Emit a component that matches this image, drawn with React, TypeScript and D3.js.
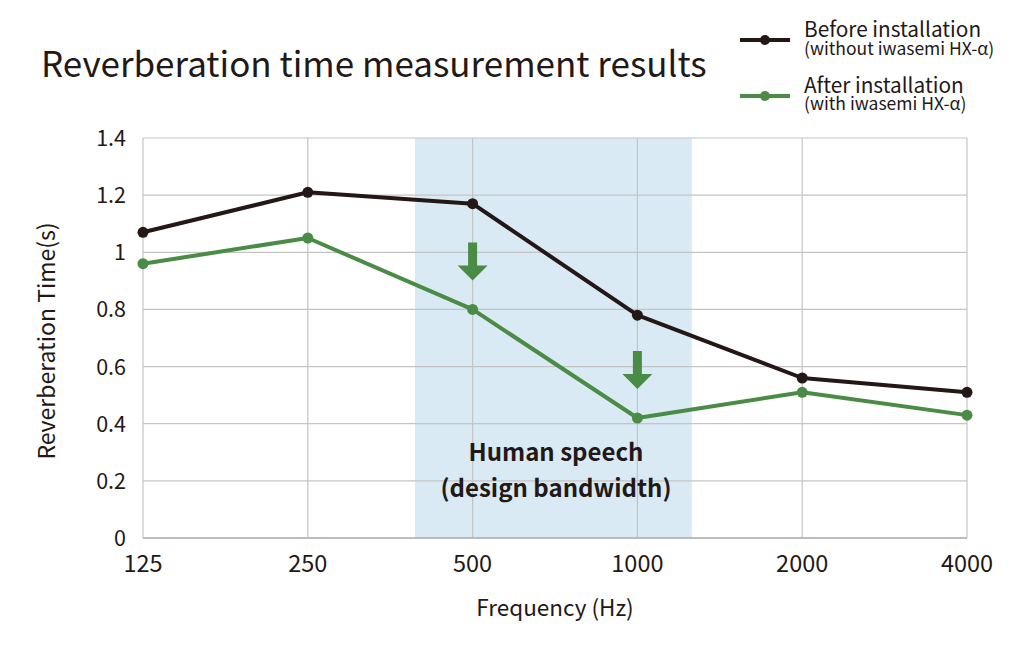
import React from "react";
import * as d3 from "d3";

const categories = ["125", "250", "500", "1000", "2000", "4000"];
const beforeValues = [1.07, 1.21, 1.17, 0.78, 0.56, 0.51];
const afterValues = [0.96, 1.05, 0.8, 0.42, 0.51, 0.43];
const yTicks = [0, 0.2, 0.4, 0.6, 0.8, 1, 1.2, 1.4];
const arrowAt = ["500", "1000"];
const speechBand = [1.65, 3.33]; // in category index units

const FONT = "'Noto Sans CJK JP', 'Noto Sans', sans-serif";
const BLACK = "#231815";
const GREEN = "#4a8c45";
const GRID = "#c4c4c4";
const SHADE = "#d9eaf4";

export default function App() {
  const W = 1024, H = 648;
  const left = 143, right = 967, top = 138, bottom = 538;
  const xi = d3.scaleLinear().domain([0, categories.length - 1]).range([left, right]);
  const x = (c: string) => xi(categories.indexOf(c));
  const y = d3.scaleLinear().domain([0, 1.4]).range([bottom, top]);
  const line = d3.line<number>().x((_, i) => xi(i)).y((d) => y(d));

  const series = [
    { values: beforeValues, color: BLACK },
    { values: afterValues, color: GREEN },
  ];

  return (
    <svg width={W} height={H} style={{ position: "absolute", left: 0, top: 0, background: "#fff" }} fontFamily={FONT}>
      <rect x={0} y={0} width={W} height={H} fill="#fff" />
      <text x={41} y={77} fontSize={35} fill={BLACK}>Reverberation time measurement results</text>

      {/* legend */}
      <g>
        <line x1={740} x2={790} y1={40} y2={40} stroke={BLACK} strokeWidth={4} />
        <circle cx={765} cy={40} r={5} fill={BLACK} />
        <text x={804} y={37} fontSize={20.8} fill={BLACK}>Before installation</text>
        <text x={804} y={55} fontSize={17.5} fill={BLACK}>(without iwasemi HX-α)</text>
        <line x1={740} x2={790} y1={96} y2={96} stroke={GREEN} strokeWidth={4} />
        <circle cx={765} cy={96} r={5} fill={GREEN} />
        <text x={804} y={93} fontSize={20.8} fill={BLACK}>After installation</text>
        <text x={804} y={110} fontSize={17.5} fill={BLACK}>(with iwasemi HX-α)</text>
      </g>

      {/* shaded band */}
      <rect x={xi(speechBand[0])} y={top} width={xi(speechBand[1]) - xi(speechBand[0])} height={bottom - top} fill={SHADE} />

      {/* grid */}
      {yTicks.map((t) => (
        <line key={"h" + t} x1={left} x2={right} y1={y(t)} y2={y(t)} stroke={GRID} strokeWidth={1.2} />
      ))}
      {categories.map((c) => (
        <line key={"v" + c} x1={x(c)} x2={x(c)} y1={top} y2={bottom} stroke={GRID} strokeWidth={1.2} />
      ))}
      <line x1={left} x2={right} y1={bottom} y2={bottom} stroke="#b0b0b0" strokeWidth={1.5} />

      {/* y tick labels */}
      {yTicks.map((t) => (
        <text key={"yl" + t} x={126} y={y(t) + 8} fontSize={21.5} textAnchor="end" fill={BLACK}>
          {String(t)}
        </text>
      ))}
      {/* x tick labels */}
      {categories.map((c) => (
        <text key={"xl" + c} x={x(c)} y={572} fontSize={23.5} textAnchor="middle" fill={BLACK}>
          {c}
        </text>
      ))}

      <text x={555} y={616} fontSize={22.5} textAnchor="middle" fill={BLACK}>Frequency (Hz)</text>
      <text transform="translate(55,341) rotate(-90)" fontSize={23} textAnchor="middle" fill={BLACK}>Reverberation Time(s)</text>

      {/* speech band label */}
      <text x={556} y={461} fontSize={24} fontWeight="bold" textAnchor="middle" fill={BLACK}>Human speech</text>
      <text x={556} y={497} fontSize={24} fontWeight="bold" textAnchor="middle" fill={BLACK}>(design bandwidth)</text>

      {/* arrows */}
      {arrowAt.map((c) => {
        const i = categories.indexOf(c);
        const cx = x(c);
        const tipY = y(afterValues[i]) - 29;
        const topY = tipY - 38;
        const headH = 15, headW = 15, shaft = 4.5;
        const d = `M${cx - shaft},${topY} L${cx + shaft},${topY} L${cx + shaft},${tipY - headH} L${cx + headW},${tipY - headH} L${cx},${tipY} L${cx - headW},${tipY - headH} L${cx - shaft},${tipY - headH} Z`;
        return <path key={"a" + c} d={d} fill={GREEN} />;
      })}

      {/* lines */}
      {series.map((s, k) => (
        <g key={"s" + k}>
          <path d={line(s.values) || ""} fill="none" stroke={s.color} strokeWidth={4} strokeLinejoin="round" />
          {s.values.map((v, i) => (
            <circle key={i} cx={xi(i)} cy={y(v)} r={5.5} fill={s.color} />
          ))}
        </g>
      ))}
    </svg>
  );
}
